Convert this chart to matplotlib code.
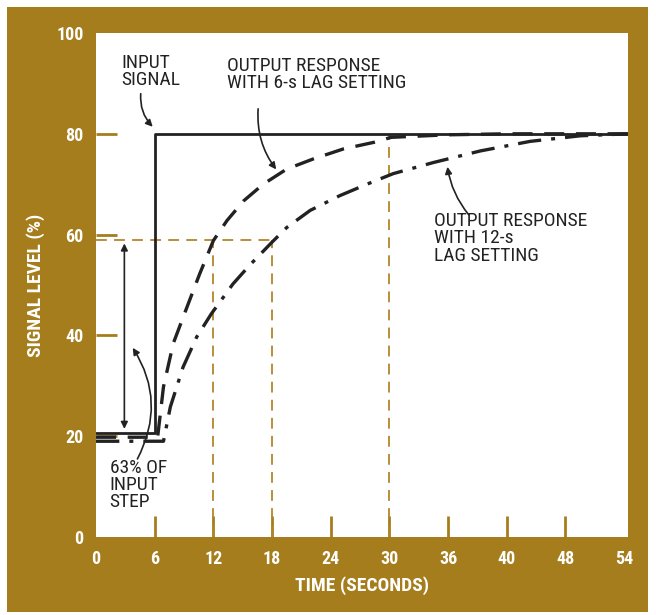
import matplotlib
matplotlib.use("Agg")
import matplotlib.pyplot as plt
from matplotlib import font_manager
from matplotlib.patches import Rectangle

# %%
# values
t_input = [0, 6, 6, 54.4]
v_input = [20.7, 20.7, 80, 80]

t_lag6 = [0, 6.3, 6.9, 7.9, 9.3, 10.6, 12.0, 13.4, 15.1, 17.1, 19.5, 22.2, 25.3, 28.4, 30.2, 36, 42, 54.4]
v_lag6 = [19.8, 19.8, 29.8, 38.4, 45.6, 52.2, 58.8, 62.8, 66.7, 70.0, 73.0, 75.0, 77.0, 78.3, 79.3, 79.8, 80, 80]

t_lag12 = [0, 6.9, 7.6, 8.9, 10.3, 11.8, 14.0, 15.7, 18.0, 19.5, 21.9, 24.9, 27.7, 30.4,
           34.5, 39.3, 44.4, 49.5, 54.4]
v_lag12 = [19.0, 19.0, 25.8, 33.7, 39.7, 44.3, 50.2, 53.9, 58.5, 61.4, 64.8, 67.7, 70.0, 72.1,
           74.3, 76.6, 78.5, 79.6, 80]

level_63 = 59
t_63 = [12, 18]
t_settle = 30

xticks = [0, 6, 12, 18, 24, 30, 36, 42, 48, 54]
xtick_labels = ["0", "6", "12", "18", "24", "30", "36", "40", "48", "54"]
yticks = [0, 20, 40, 60, 80, 100]

gold = "#A67D1C"
guide = "#B3862A"

names = {f.name for f in font_manager.fontManager.ttflist}
narrow = [n for n in ['Liberation Sans Narrow', 'Roboto Condensed', 'DejaVu Sans Condensed'] if n in names]
plt.rcParams['font.family'] = narrow + ['DejaVu Sans']
plt.rcParams['font.stretch'] = 'condensed'

# %%
fig = plt.figure(figsize=(6.56, 6.15), dpi=100)
fig.patch.set_facecolor("white")
fig.patches.append(Rectangle((7 / 656, 3 / 615), 641 / 656, 605 / 615,
                             transform=fig.transFigure, facecolor=gold,
                             edgecolor="none", zorder=-5))

ax = fig.add_axes([96 / 656, 1 - 537 / 615, 532 / 656, 504 / 615])
ax.set_zorder(2)
ax.set_facecolor("white")
ax.set_xlim(0, 54.4)
ax.set_ylim(0, 100)
for s in ax.spines.values():
    s.set_visible(False)

# guide lines
ax.plot([0, t_63[1]], [level_63, level_63], color=guide, lw=1.3, dashes=(6, 4), zorder=2)
for tx in t_63:
    ax.plot([tx, tx], [0, level_63], color=guide, lw=1.3, dashes=(6, 4), zorder=2)
ax.plot([t_settle, t_settle], [0, 80], color=guide, lw=1.3, dashes=(6, 4), zorder=2)

# curves
ax.plot(t_input, v_input, color="#222222", lw=2.0, zorder=4)
ax.plot(t_lag6, v_lag6, color="#222222", lw=2.4, dashes=(6, 3.5), zorder=3)
ax.plot(t_lag12, v_lag12, color="#222222", lw=2.4, dashes=(7, 3, 1.2, 3), zorder=3)

# ticks
ax.set_xticks(xticks)
ax.set_xticklabels(xtick_labels)
ax.set_yticks(yticks)
ax.tick_params(direction="in", length=15, width=2, color=gold,
               labelcolor="white", labelsize=13, pad=9)
for tk in ax.xaxis.get_major_ticks()[::len(xticks) - 1] + ax.yaxis.get_major_ticks()[::len(yticks) - 1]:
    tk.tick1line.set_visible(False)
for lab in ax.get_xticklabels() + ax.get_yticklabels():
    lab.set_fontweight("bold")
ax.set_xlabel("TIME (SECONDS)", color="white", fontsize=14, fontweight="bold")
ax.set_ylabel("SIGNAL LEVEL (%)", color="white", fontsize=14, fontweight="bold")
ax.xaxis.set_label_coords(0.5, -0.077)
ax.yaxis.set_label_coords(-0.096, 0.5)

# annotations
txt = dict(color="#222222", fontsize=14, va="top", ha="left", linespacing=0.95)
ax.text(2.6, 95.8, "INPUT\nSIGNAL", **txt)
ax.text(13.4, 95.3, "OUTPUT RESPONSE\nWITH 6-s LAG SETTING", **txt)
ax.text(34.6, 64.5, "OUTPUT RESPONSE\nWITH 12-s\nLAG SETTING", **txt)
ax.text(1.4, 15.5, "63% OF\nINPUT\nSTEP", **txt)

arr = dict(arrowstyle="-|>", color="#222222", lw=1.2, mutation_scale=10)
ax.annotate("", xy=(6.0, 81), xytext=(4.6, 88.5),
            arrowprops=dict(arr, connectionstyle="arc3,rad=0.25"))
ax.annotate("", xy=(18.6, 72.5), xytext=(16.6, 85.5),
            arrowprops=dict(arr, connectionstyle="arc3,rad=0.2"))
ax.annotate("", xy=(35.9, 74.0), xytext=(38.3, 63.5),
            arrowprops=dict(arr, connectionstyle="arc3,rad=-0.15"))
ax.annotate("", xy=(3.6, 38), xytext=(4.1, 15),
            arrowprops=dict(arr, connectionstyle="arc3,rad=0.3"))
ax.annotate("", xy=(2.9, 20.9), xytext=(2.9, 58.8),
            arrowprops=dict(arrowstyle="<|-|>", color="#222222", lw=1.2, mutation_scale=10))

fig.savefig("out.png", dpi=100, facecolor=fig.get_facecolor())
